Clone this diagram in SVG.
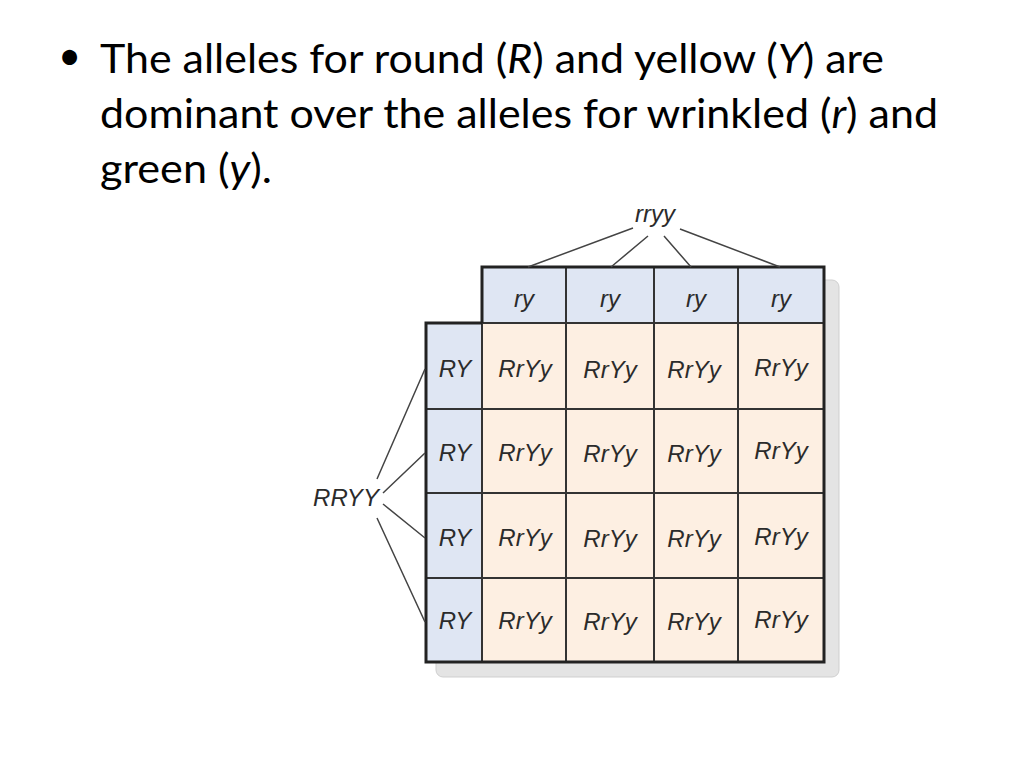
<svg xmlns="http://www.w3.org/2000/svg" width="1024" height="768" viewBox="0 0 1024 768">
<style>
.t{font-family:Lato,"Liberation Sans",sans-serif;font-size:40px;fill:#000}
.g{font-family:"Liberation Sans",Arial,sans-serif;font-style:italic;font-size:24px;fill:#2b2b2b;text-anchor:middle}
.hd{fill:#dfe6f3}
.bd{fill:#fdefe2}
.in{stroke:#333;stroke-width:2;fill:none}
.cn{stroke:#444;stroke-width:1.5;fill:none}
</style>
<rect width="1024" height="768" fill="#fff"/>
<g id="bullet">
<text class="t" x="58" y="70" font-size="32">•</text>
<text class="t" x="100" y="73" textLength="784" lengthAdjust="spacingAndGlyphs">The alleles for round (<tspan font-style="italic">R</tspan>) and yellow (<tspan font-style="italic">Y</tspan>) are</text>
<text class="t" x="100" y="128" textLength="838" lengthAdjust="spacingAndGlyphs">dominant over the alleles for wrinkled (<tspan font-style="italic">r</tspan>) and</text>
<text class="t" x="100" y="183" textLength="172" lengthAdjust="spacingAndGlyphs">green (<tspan font-style="italic">y</tspan>).</text>
</g>
<g id="shadow">
<path d="M482 280H832a7 7 0 0 1 7 7V670a7 7 0 0 1 -7 7H443a7 7 0 0 1 -7 -7V323H482Z" fill="#e4e4e4" stroke="#cfcfcf" stroke-width="1"/>
</g>
<g id="grid">
<rect class="hd" x="482" y="267" width="342" height="56"/>
<rect class="hd" x="426" y="323" width="56" height="339"/>
<rect class="bd" x="482" y="323" width="342" height="339"/>
<path class="in" d="M566 267V662M654 267V662M738 267V662M426 409H824M426 493H824M426 578H824M482 267V662M426 323H824"/>
<path d="M482 323V267H824V662H426V323H482" fill="none" stroke="#222" stroke-width="3"/>
</g>
<g id="connectors">
<path class="cn" d="M633 228L528 267M648 236L611 267M664 236L691 267M680 229L780 267"/>
<path class="cn" d="M377 479L425 369M383 493L425 453M383 504L425 538M377 518L425 622"/>
</g>
<g id="labels">
<text class="g" x="655" y="222">rryy</text>
<text class="g" x="346" y="506">RRYY</text>
<text class="g" x="524" y="307">ry</text>
<text class="g" x="610" y="307">ry</text>
<text class="g" x="696" y="307">ry</text>
<text class="g" x="781" y="307">ry</text>
<text class="g" x="455" y="377">RY</text>
<text class="g" x="455" y="461">RY</text>
<text class="g" x="455" y="546">RY</text>
<text class="g" x="455" y="629">RY</text>
<g>
<text class="g" x="525" y="377">RrYy</text><text class="g" x="610" y="378">RrYy</text><text class="g" x="694" y="378">RrYy</text><text class="g" x="781" y="376">RrYy</text>
<text class="g" x="525" y="461">RrYy</text><text class="g" x="610" y="462">RrYy</text><text class="g" x="694" y="462">RrYy</text><text class="g" x="781" y="459">RrYy</text>
<text class="g" x="525" y="546">RrYy</text><text class="g" x="610" y="547">RrYy</text><text class="g" x="694" y="547">RrYy</text><text class="g" x="781" y="545">RrYy</text>
<text class="g" x="525" y="629">RrYy</text><text class="g" x="610" y="630">RrYy</text><text class="g" x="694" y="630">RrYy</text><text class="g" x="781" y="628">RrYy</text>
</g>
</g>
</svg>
